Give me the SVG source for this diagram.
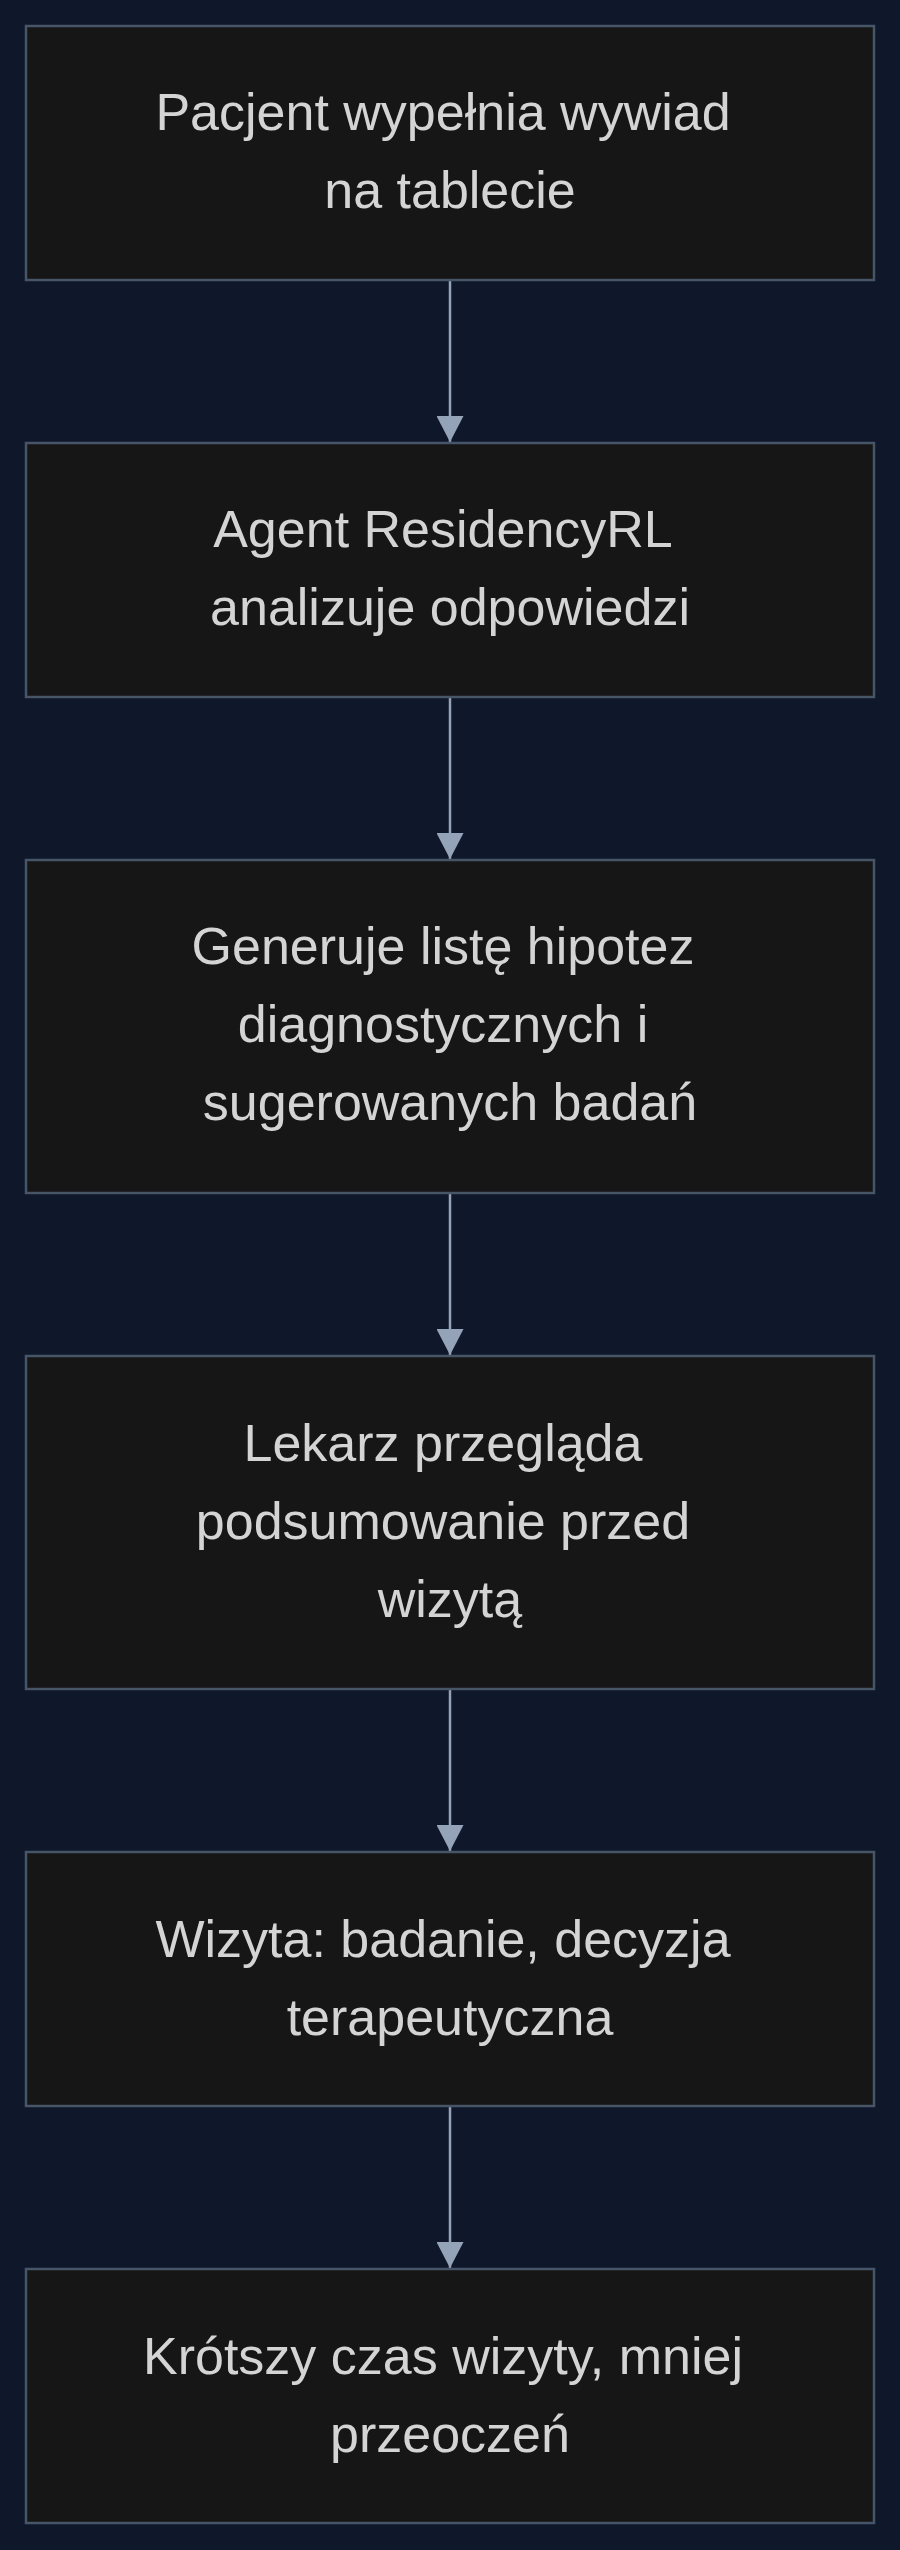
<svg xmlns="http://www.w3.org/2000/svg" width="900" height="2550" viewBox="0 0 900 2550">
<style>
.node rect{fill:#161616;stroke:#475569;stroke-width:2.5}
.node text{font-family:"Liberation Sans",Arial,sans-serif;font-size:52px;fill:#d4d4d4;text-anchor:middle}
.edge{stroke:#94a3b8;stroke-width:2.5;fill:none}
</style>
<defs>
<marker id="arr" viewBox="0 0 26 27" refX="26" refY="13.5" markerUnits="userSpaceOnUse" markerWidth="26" markerHeight="27" orient="auto">
<path d="M0,0 L26,13.5 L0,27 Z" fill="#94a3b8"/>
</marker>
</defs>
<rect width="900" height="2550" fill="#0f172a"/>
<g id="connectors">
<line class="edge" x1="450" y1="281" x2="450" y2="442" marker-end="url(#arr)"/>
<line class="edge" x1="450" y1="698" x2="450" y2="859" marker-end="url(#arr)"/>
<line class="edge" x1="450" y1="1194" x2="450" y2="1355" marker-end="url(#arr)"/>
<line class="edge" x1="450" y1="1690" x2="450" y2="1851" marker-end="url(#arr)"/>
<line class="edge" x1="450" y1="2107" x2="450" y2="2268" marker-end="url(#arr)"/>
</g>
<g id="n1" class="node">
<rect x="26" y="26" width="848" height="254"/>
<text x="443" y="130">Pacjent wypełnia wywiad</text>
<text x="450" y="208">na tablecie</text>
</g>
<g id="n2" class="node">
<rect x="26" y="443" width="848" height="254"/>
<text x="443" y="547">Agent ResidencyRL</text>
<text x="450" y="625">analizuje odpowiedzi</text>
</g>
<g id="n3" class="node">
<rect x="26" y="860" width="848" height="333"/>
<text x="443" y="964">Generuje listę hipotez</text>
<text x="443" y="1042">diagnostycznych i</text>
<text x="450" y="1120">sugerowanych badań</text>
</g>
<g id="n4" class="node">
<rect x="26" y="1356" width="848" height="333"/>
<text x="443" y="1461">Lekarz przegląda</text>
<text x="443" y="1539">podsumowanie przed</text>
<text x="450" y="1617">wizytą</text>
</g>
<g id="n5" class="node">
<rect x="26" y="1852" width="848" height="254"/>
<text x="443" y="1957">Wizyta: badanie, decyzja</text>
<text x="450" y="2035">terapeutyczna</text>
</g>
<g id="n6" class="node">
<rect x="26" y="2269" width="848" height="254"/>
<text x="443" y="2374">Krótszy czas wizyty, mniej</text>
<text x="450" y="2452">przeoczeń</text>
</g>
</svg>
